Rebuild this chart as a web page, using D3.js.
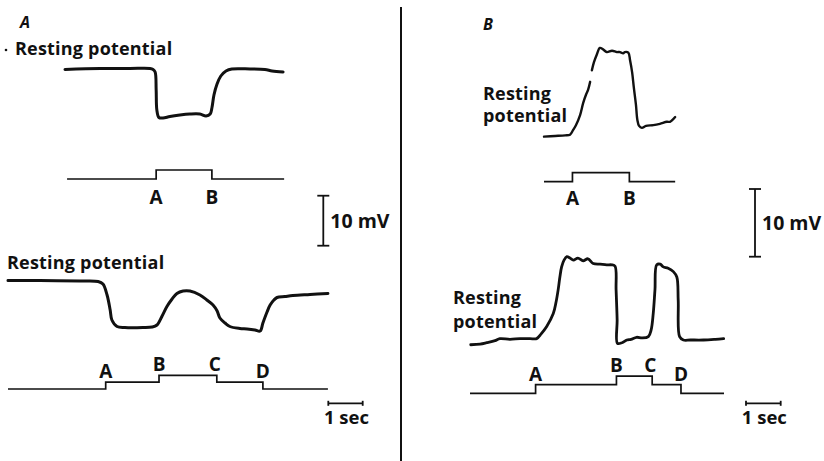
<!DOCTYPE html>
<html>
<head>
<meta charset="utf-8">
<script src="https://cdn.jsdelivr.net/npm/d3@7"></script>
<style>
  body { margin: 0; background: #fff; }
  text { font-family: 'Open Sans', 'Lato', sans-serif; fill: #111; }
</style>
</head>
<body>
<svg id="fig" width="824" height="461"></svg>
<script>
// ---- values: time in sec, potential in mV from resting ----
// panel A, upper record
var aTopTime = [0, 1.02, 1.89, 2.47, 2.56, 2.62, 2.65, 2.67, 2.73, 2.85, 3.05, 3.34, 3.63, 3.92, 4.10,
  4.22, 4.27, 4.33, 4.42, 4.53, 4.68, 4.85, 5.38, 5.81, 6.02, 6.34];
var aTopMV = [-0.1, 0.1, 0.1, 0.1, -0.1, -0.6, -4.2, -8.2, -9.7, -9.8, -9.5, -9.2, -9.0, -9.0, -9.4,
  -9.0, -7.8, -5.2, -3.0, -1.4, -0.4, 0, 0, -0.1, -0.4, -0.6];
var aTopStepTime = [0.06, 2.65, 4.27, 6.37];
var aTopStepLevel = [0, 1, 0, 0];
var aTopStepNames = ["A", "B"];

// panel A, lower record
var aBotTime = [0, 0.93, 2.09, 2.62, 2.76, 2.88, 2.97, 3.02, 3.17, 3.40, 3.92, 4.19, 4.33, 4.48, 4.62,
  4.77, 4.91, 5.09, 5.29, 5.58, 5.78, 5.96, 6.08, 6.16, 6.31, 6.45, 6.74, 6.95, 7.18, 7.33,
  7.41, 7.53, 7.62, 7.73, 7.82, 8.05, 8.28, 8.78, 9.30];
var aBotMV = [0.1, 0.1, 0, -0.1, -0.6, -2.8, -5.8, -7.8, -9.1, -9.3, -9.3, -9.2, -8.8, -7.0, -5.1,
  -3.6, -2.5, -2.0, -2.0, -2.8, -3.8, -4.8, -6.0, -7.4, -8.4, -9.1, -9.5, -9.6, -9.8, -10.0,
  -8.4, -6.2, -4.8, -3.8, -3.3, -3.1, -2.9, -2.7, -2.5];
var aBotStepTime = [0, 2.84, 4.39, 6.07, 7.41, 9.30];
var aBotStepLevel = [0, 1, 2, 1, 0, 0];
var aBotStepNames = ["A", "B", "C", "D"];

// panel B, upper record (null = gap in the trace)
var bTopTime = [0, 0.32, 0.61, 0.75, 0.84, 0.92, 1.04, 1.13, 1.21, 1.27, 1.33, 1.35, 1.38, 1.44, 1.52,
  1.61, 1.70, 1.81, 1.96, 2.10, 2.19, 2.28, 2.33, 2.43, 2.48, 2.54, 2.59, 2.65, 2.69, 2.74,
  2.82, 2.94, 3.15, 3.34, 3.54, 3.63, 3.78];
var bTopMV = [-0.1, 0, 0.1, 0.2, 0.9, 1.6, 3.1, 4.9, 6.1, 6.8, 8.0, null, 9.7, 10.9, 12.0,
  13.0, 12.8, 12.4, 12.6, 12.4, 12.4, 12.2, 12.4, 12.3, 11.2, 9.4, 7.1, 4.6, 2.4, 1.5,
  1.2, 1.5, 1.6, 1.8, 2.1, 2.1, 2.8];
var bTopStepTime = [0, 0.82, 2.46, 3.78];
var bTopStepLevel = [0, 1, 0, 0];
var bTopStepNames = ["A", "B"];

// panel B, lower record
var bBotTime = [0, 0.27, 0.46, 0.70, 0.84, 1.13, 1.42, 1.71, 1.90, 2.03, 2.19, 2.38, 2.46, 2.52, 2.57,
  2.62, 2.69, 2.77, 2.86, 2.96, 3.09, 3.24, 3.38, 3.53, 3.73, 3.92, 4.07, 4.16, 4.19, 4.22,
  4.23, 4.36, 4.50, 4.62, 4.78, 4.94, 5.12, 5.20, 5.26, 5.31, 5.36, 5.46, 5.55, 5.69, 5.84,
  5.94, 5.98, 6.02, 6.13, 6.33, 6.71, 7.05, 7.29];
var bBotMV = [-0.7, -0.6, -0.4, -0.1, 0.2, 0.1, 0.2, 0.2, 0.2, 0.9, 2.0, 3.9, 5.6, 7.4, 9.3,
  10.8, 11.8, 12.3, 12.1, 11.8, 12.1, 11.7, 12.0, 11.3, 11.2, 11.1, 11.1, 10.9, 7.4, 3.0,
  -0.5, -0.4, 0, 0.1, 0.4, 0.3, 0.5, 1.5, 3.9, 7.4, 11.1, 11.2, 10.8, 10.6, 10.1,
  9.3, 5.9, 0.5, 0, 0, 0, 0.1, 0.2];
var bBotStepTime = [-0.02, 1.87, 4.20, 5.23, 6.06, 7.30];
var bBotStepLevel = [0, 1, 2, 1, 0, 0];
var bBotStepNames = ["A", "B", "C", "D"];

// calibration bars
var barMV = 10, barSec = 1;

var svg = d3.select("#fig");
var font = 18;

// scales for each panel: px per second and px per mV differ between A and B
function xScale(x0, pps) { return d3.scaleLinear().domain([0, 1]).range([x0, x0 + pps]); }
function yScale(y0, ppm) { return d3.scaleLinear().domain([0, 1]).range([y0, y0 - ppm]); }

var lineGen = function (x, y) {
  return d3.line()
    .defined(function (d) { return d.v !== null; })
    .x(function (d) { return x(d.t); })
    .y(function (d) { return y(d.v); })
    .curve(d3.curveCatmullRom.alpha(0.5));
};

function drawTrace(time, mv, x, y, w) {
  var pts = time.map(function (t, i) { return { t: t, v: mv[i] }; });
  svg.append("path").datum(pts)
    .attr("d", lineGen(x, y))
    .attr("fill", "none").attr("stroke", "#111")
    .attr("stroke-width", w).attr("stroke-linejoin", "round").attr("stroke-linecap", "round");
}

function drawSteps(time, level, names, x, lv, below) {
  var pts = time.map(function (t, i) { return { t: t, v: level[i] }; });
  svg.append("path").datum(pts)
    .attr("d", d3.line().x(function (d) { return x(d.t); }).y(function (d) { return lv(d.v); })
      .curve(d3.curveStepAfter))
    .attr("fill", "none").attr("stroke", "#111").attr("stroke-width", 1.7);
  names.forEach(function (n, i) {
    var k = i + 1;
    var top = Math.max(level[k - 1], level[k]);
    svg.append("text")
      .attr("x", x(time[k]) + (n === "C" ? -2 : 0))
      .attr("y", below ? lv(0) + below : lv(top) - 4)
      .attr("text-anchor", "middle")
      .attr("font-size", 19).attr("font-weight", 700)
      .text(n);
  });
}

function drawBars(xv, yt, y, x) {
  // vertical 10 mV bar
  var g = svg.append("g").attr("stroke", "#111").attr("stroke-width", 1.8);
  g.append("line").attr("x1", xv).attr("x2", xv).attr("y1", y(0)).attr("y2", y(barMV));
  [0, barMV].forEach(function (v) {
    g.append("line").attr("x1", xv - 6).attr("x2", xv + 6).attr("y1", y(v)).attr("y2", y(v));
  });
  svg.append("text").attr("x", xv + 7).attr("y", (y(0) + y(barMV)) / 2 + 7)
    .attr("font-size", 19.5).attr("font-weight", 700).text("10 mV");
  // horizontal 1 sec bar
  var x1 = x(0), x2 = x(barSec);
  g.append("line").attr("x1", x1).attr("x2", x2).attr("y1", yt).attr("y2", yt);
  [x1, x2].forEach(function (p) {
    g.append("line").attr("x1", p).attr("x2", p).attr("y1", yt - 2.5).attr("y2", yt + 2.5);
  });
  svg.append("text").attr("x", (x1 + x2) / 2 + 1).attr("y", yt + 21)
    .attr("text-anchor", "middle").attr("font-size", 18.5).attr("font-weight", 700).text("1 sec");
}

function label(x, y, s) {
  return svg.append("text").attr("x", x).attr("y", y)
    .attr("font-size", font).attr("font-weight", 700)
    .attr("letter-spacing", 0.2).text(s);
}

// ---------------- panel A ----------------
var ppsA = 34.4, ppmA = 5.0;
var xA1 = xScale(65, ppsA), yA1 = yScale(69, ppmA);
drawTrace(aTopTime, aTopMV, xA1, yA1, 3);
drawSteps(aTopStepTime, aTopStepLevel, aTopStepNames, xA1, yScale(179, 9), 25);

var xA2 = xScale(8, ppsA), yA2 = yScale(281, ppmA);
drawTrace(aBotTime, aBotMV, xA2, yA2, 3);
drawSteps(aBotStepTime, aBotStepLevel, aBotStepNames, xA2, yScale(389, 6.8), 0);

drawBars(323.3, 403.3, yScale(245.7, ppmA), xScale(328.3, ppsA));

svg.append("text").attr("x", 20).attr("y", 28).attr("font-size", 16)
  .attr("font-weight", "bold").attr("font-style", "italic").text("A");
svg.append("circle").attr("cx", 6).attr("cy", 50).attr("r", 1.3).attr("fill", "#111");
label(15, 55, "Resting potential");
label(7, 269, "Resting potential");

// divider
svg.append("line").attr("x1", 401).attr("x2", 401).attr("y1", 7).attr("y2", 461)
  .attr("stroke", "#111").attr("stroke-width", 2);

// ---------------- panel B ----------------
var ppsB = 34.7, ppmB = 6.77;
var xB1 = xScale(544, ppsB), yB1 = yScale(136, ppmB);
drawTrace(bTopTime, bTopMV, xB1, yB1, 2.4);
drawSteps(bTopStepTime, bTopStepLevel, bTopStepNames, xB1, yScale(181.7, 9), 23);

var xB2 = xScale(470.7, ppsB), yB2 = yScale(340, ppmB);
drawTrace(bBotTime, bBotMV, xB2, yB2, 2.8);
drawSteps(bBotStepTime, bBotStepLevel, bBotStepNames, xB2, yScale(393.3, 8.6), 0);

drawBars(755, 403.3, yScale(256.7, ppmB), xScale(746, ppsB));

svg.append("text").attr("x", 483).attr("y", 30).attr("font-size", 16)
  .attr("font-weight", "bold").attr("font-style", "italic").text("B");
label(483, 100, "Resting");
label(483, 122, "potential");
label(453, 304, "Resting");
label(453, 328, "potential");
</script>
</body>
</html>
